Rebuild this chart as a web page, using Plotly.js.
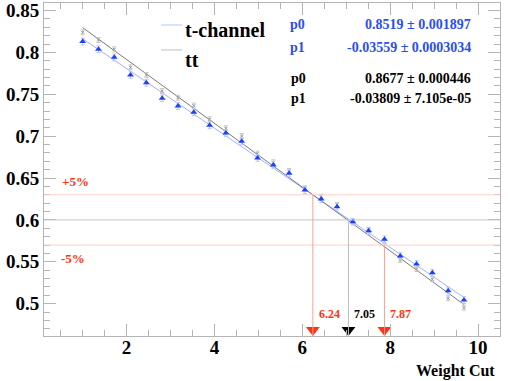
<!DOCTYPE html>
<html>
<head>
<meta charset="utf-8">
<script src="https://cdn.plot.ly/plotly-3.0.1.min.js"></script>
<style>
  body { margin: 0; background: #fff; }
  #plot { width: 508px; height: 381px; }
</style>
</head>
<body>
<div id="plot"></div>
<script>
// weight cut values (bin centres)
var weightCut = [1.00, 1.36, 1.72, 2.09, 2.45, 2.81, 3.17, 3.53, 3.89, 4.26, 4.62, 4.98, 5.34,
                 5.70, 6.06, 6.43, 6.79, 7.15, 7.51, 7.87, 8.23, 8.60, 8.96, 9.32, 9.68];

// t-channel efficiency
var tchan = [0.813, 0.8037, 0.7941, 0.773, 0.7638, 0.7452, 0.736, 0.7285, 0.713, 0.7038, 0.6939,
             0.6739, 0.6656, 0.6556, 0.6357, 0.625, 0.6158, 0.5979, 0.587, 0.5769, 0.5569,
             0.5474, 0.537, 0.5155, 0.5044];
var tchanErr = [0.004, 0.004, 0.004, 0.004, 0.004, 0.004, 0.004, 0.004, 0.004, 0.004, 0.004,
                0.004, 0.004, 0.004, 0.004, 0.004, 0.004, 0.004, 0.004, 0.004, 0.004,
                0.004, 0.004, 0.004, 0.004];

// ttbar efficiency
var ttbar = [0.824, 0.8148, 0.8037, 0.7822, 0.773, 0.7539, 0.7459, 0.7364, 0.7201, 0.7094, 0.7002,
             0.6791, 0.6688, 0.6584, 0.6377, 0.6277, 0.6178, 0.5979, 0.588, 0.574, 0.5522,
             0.5414, 0.5291, 0.5064, 0.4952];
var ttbarErr = [0.003, 0.003, 0.003, 0.003, 0.003, 0.003, 0.003, 0.003, 0.003, 0.003, 0.003,
                0.003, 0.003, 0.003, 0.003, 0.003, 0.003, 0.003, 0.003, 0.003, 0.003,
                0.003, 0.003, 0.003, 0.003];

// linear fits
var fitRange = [1.0, 9.68];
var tchanFit = [0.8519, -0.03559];
var ttbarFit = [0.8677, -0.03809];

// reference levels and cut values
var refLevels = [0.63, 0.60, 0.57];
var cutValues = [6.24, 7.05, 7.87];
var cutLabels = ["6.24", "7.05", "7.87"];

var red = "#ff3311";
var blue = "#2a4ef0";
var serif = "Liberation Serif";

function fitLine(p) {
  return fitRange.map(function (x) { return p[0] + p[1] * x; });
}

var traces = [
  {
    x: fitRange, y: fitLine(tchanFit), mode: "lines",
    line: { color: "#9fb2ff", width: 1 }, hoverinfo: "skip"
  },
  {
    x: fitRange, y: fitLine(ttbarFit), mode: "lines",
    line: { color: "#7a7a7a", width: 1 }, hoverinfo: "skip"
  },
  {
    x: weightCut, y: ttbar, mode: "markers",
    marker: { symbol: "x-thin", size: 3, line: { color: "#9a9a9a", width: 1 } },
    error_y: { type: "data", array: ttbarErr, color: "#c8c8c8", thickness: 1, width: 2 }
  },
  {
    x: weightCut, y: tchan, mode: "markers",
    marker: { symbol: "triangle-up", size: 6, color: "#1f3fff" },
    error_y: { type: "data", array: tchanErr, color: "#b8c6ff", thickness: 1, width: 2 }
  },
  {
    x: cutValues, y: [0.4685, 0.4685, 0.4685], mode: "markers", cliponaxis: false,
    marker: { symbol: "triangle-down", size: 12, color: [red, "#000000", red] }
  }
];

var shapes = [
  { type: "line", xref: "paper", x0: 0, x1: 1, y0: refLevels[0], y1: refLevels[0], line: { color: "#ffcfc4", width: 1 } },
  { type: "line", xref: "paper", x0: 0, x1: 1, y0: refLevels[1], y1: refLevels[1], line: { color: "#c4c4c4", width: 1 } },
  { type: "line", xref: "paper", x0: 0, x1: 1, y0: refLevels[2], y1: refLevels[2], line: { color: "#ffcfc4", width: 1 } }
];
// vertical drop lines from the reference level to the axis
for (var i = 0; i < cutValues.length; i++) {
  shapes.push({
    type: "line", x0: cutValues[i], x1: cutValues[i], y0: refLevels[i], y1: 0.4614,
    line: { color: i === 1 ? "#bdbdbd" : "#ff9f94", width: 1 }
  });
}
// legend line samples
shapes.push({ type: "line", xref: "paper", yref: "paper", x0: 0.257, x1: 0.303, y0: 0.934, y1: 0.934, line: { color: "#b8c6ff", width: 1 } });
shapes.push({ type: "line", xref: "paper", yref: "paper", x0: 0.257, x1: 0.303, y0: 0.859, y1: 0.859, line: { color: "#bdbdbd", width: 1 } });

function note(text, x, y, anchor, size, color) {
  return { text: "<b>" + text + "</b>", xref: "paper", yref: "paper", x: x, y: y,
           xanchor: anchor, yanchor: "middle", showarrow: false,
           font: { family: serif, size: size, color: color } };
}

var annotations = [
  note("t-channel", 0.305, 0.92, "left", 20, "#000"),
  note("tt", 0.305, 0.83, "left", 20, "#000"),
  note("p0", 0.535, 0.935, "left", 14, blue),
  note("0.8519 ± 0.001897", 0.941, 0.935, "right", 14, blue),
  note("p1", 0.535, 0.866, "left", 14, blue),
  note("-0.03559 ± 0.0003034", 0.941, 0.866, "right", 14, blue),
  note("p0", 0.537, 0.772, "left", 14, "#000"),
  note("0.8677 ± 0.000446", 0.941, 0.772, "right", 14, "#000"),
  note("p1", 0.537, 0.712, "left", 14, "#000"),
  note("-0.03809 ± 7.105e-05", 0.941, 0.712, "right", 14, "#000"),
  note("Weight Cut", 0.993, -0.105, "right", 16, "#000"),
  { text: "<b>+5%</b>", xref: "paper", x: 0.036, y: refLevels[0], yshift: 13, xanchor: "left", yanchor: "middle", showarrow: false, font: { family: serif, size: 13, color: red } },
  { text: "<b>-5%</b>", xref: "paper", x: 0.033, y: refLevels[2], yshift: -13, xanchor: "left", yanchor: "middle", showarrow: false, font: { family: serif, size: 13, color: red } }
];
for (var j = 0; j < cutValues.length; j++) {
  annotations.push({
    text: "<b>" + cutLabels[j] + "</b>", x: cutValues[j], y: 0.4875, xanchor: "left", yanchor: "middle", xshift: 4,
    showarrow: false, font: { family: serif, size: 12, color: j === 1 ? "#000" : red }
  });
}

var axisCommon = {
  showgrid: false, zeroline: false, showline: true, linecolor: "#b4b4b4", linewidth: 1,
  mirror: "allticks", ticks: "inside", ticklen: 12, tickcolor: "#b4b4b4", tickwidth: 1,
  ticklabeloverflow: "allow",
  tickfont: { family: serif, size: 19, color: "#000", weight: "bold" }
};

var layout = {
  width: 508, height: 381,
  margin: { l: 44, r: 8, t: 3, b: 45 },
  paper_bgcolor: "#fff", plot_bgcolor: "#fff",
  showlegend: false,
  xaxis: Object.assign({}, axisCommon, {
    range: [0.12, 10.5], tick0: 0, dtick: 2, ticklabelstandoff: -6,
    minor: { dtick: 0.5, ticks: "inside", ticklen: 6, tickcolor: "#b4b4b4" }
  }),
  yaxis: Object.assign({}, axisCommon, {
    range: [0.4614, 0.859], tick0: 0.5, dtick: 0.05, ticklabelstandoff: 0,
    minor: { dtick: 0.01, ticks: "inside", ticklen: 6, tickcolor: "#b4b4b4" }
  }),
  shapes: shapes,
  annotations: annotations
};

Plotly.newPlot("plot", traces, layout, { staticPlot: true });
</script>
</body>
</html>
